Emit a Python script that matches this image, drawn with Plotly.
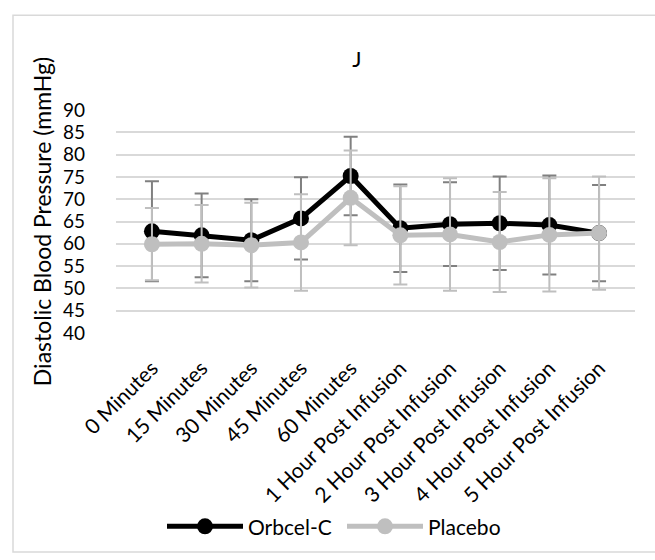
import plotly.graph_objects as go

categories = ["0 Minutes", "15 Minutes", "30 Minutes", "45 Minutes", "60 Minutes",
              "1 Hour Post Infusion", "2 Hour Post Infusion", "3 Hour Post Infusion",
              "4 Hour Post Infusion", "5 Hour Post Infusion"]
orbcel = [62.8, 61.9, 60.8, 65.7, 75.2, 63.5, 64.4, 64.6, 64.2, 62.4]
orbcel_err = [11.2, 9.4, 9.2, 9.2, 8.8, 9.8, 9.4, 10.5, 11.1, 10.8]
placebo = [59.9, 60.0, 59.7, 60.3, 70.3, 61.9, 62.1, 60.4, 62.0, 62.4]
placebo_err = [8.1, 8.7, 9.5, 10.8, 10.6, 11.0, 12.6, 11.2, 12.7, 12.7]
y_ticks = [40, 45, 50, 55, 60, 65, 70, 75, 80, 85, 90]

FONT = "Lato"
W, H = 655, 560
L, R, T, B = 116, 20, 110, 222
pw, ph = W - L - R, H - T - B

def px_x(p):
    return (p - L) / pw

def px_y(p):
    return (H - B - p) / ph

fig = go.Figure()
fig.add_trace(go.Scatter(
    x=categories, y=orbcel, name="Orbcel-C", mode="lines+markers",
    line=dict(color="#000000", width=5),
    marker=dict(color="#000000", size=16),
    error_y=dict(type="data", array=orbcel_err, color="#808080", thickness=2, width=7),
))
fig.add_trace(go.Scatter(
    x=categories, y=placebo, name="Placebo", mode="lines+markers",
    line=dict(color="#bfbfbf", width=5),
    marker=dict(color="#bfbfbf", size=16),
    error_y=dict(type="data", array=placebo_err, color="#bfbfbf", thickness=2, width=7),
))

fig.add_shape(type="rect", xref="paper", yref="paper",
              x0=px_x(13), x1=px_x(656), y0=px_y(13), y1=px_y(562),
              line=dict(color="#d9d9d9", width=1.5), fillcolor="rgba(0,0,0,0)", layer="below")

fig.update_layout(
    width=W, height=H,
    margin=dict(l=L, r=R, t=T, b=B),
    paper_bgcolor="white", plot_bgcolor="white",
    font=dict(family=FONT, size=21, color="#000000"),
    title=dict(text="J", x=357 / W, xanchor="center", xref="container",
               y=1 - 59 / H, yanchor="middle", yref="container",
               font=dict(family=FONT, size=22, color="#000000")),
    showlegend=True,
    legend=dict(orientation="h", x=px_x(162), xanchor="left", y=px_y(536), yanchor="middle",
                font=dict(family=FONT, size=21, color="#000000"), itemwidth=76,
                entrywidth=89, entrywidthmode="pixels",
                bgcolor="rgba(0,0,0,0)"),
    xaxis=dict(
        type="category", tickangle=-45, showgrid=False, showline=False, zeroline=False,
        ticks="", tickfont=dict(family=FONT, size=21, color="#000000"),
        ticklabelstandoff=18, automargin=False,
    ),
    yaxis=dict(
        range=[40, 90], tickvals=y_ticks, showgrid=True, gridcolor="#d9d9d9", gridwidth=1.5,
        showline=False, zeroline=False, ticks="",
        tickfont=dict(family=FONT, size=19, color="#000000"),
        ticklabelstandoff=30, automargin=False,
        title=dict(text="Diastolic Blood Pressure (mmHg)", standoff=4,
                   font=dict(family=FONT, size=23, color="#000000")),
    ),
)

fig.write_html("out.html")
